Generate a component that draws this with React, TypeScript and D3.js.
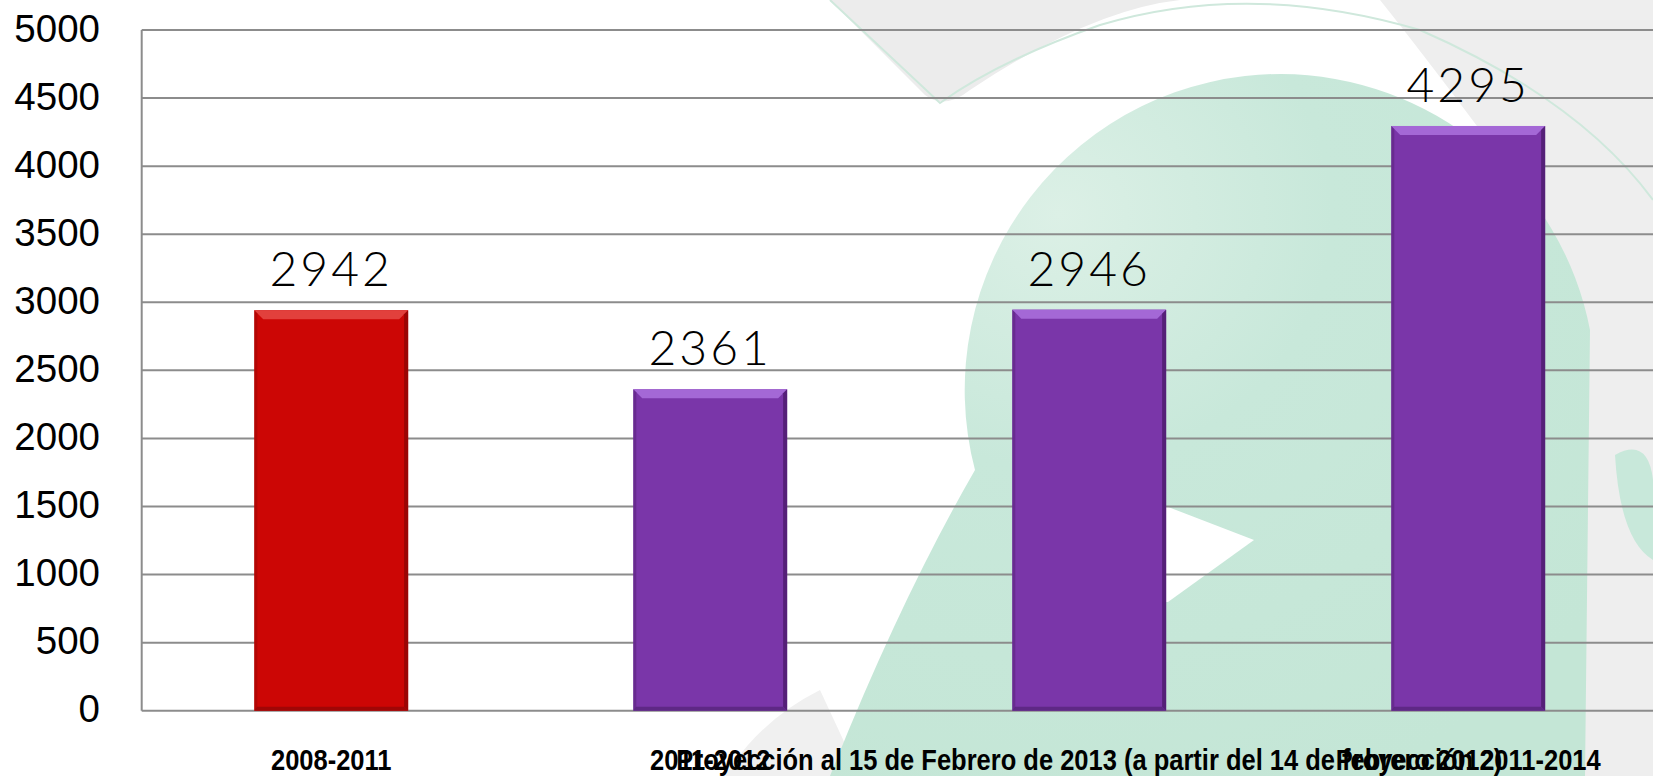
import React from "react";
import * as d3 from "d3";

const categories = [
  "2008-2011",
  "2011-2012",
  "Proyección al 15 de Febrero de 2013 (a partir del 14 de febrero 2012)",
  "Proyección 2011-2014",
];
const values = [2942, 2361, 2946, 4295];
const yTicks = [0, 500, 1000, 1500, 2000, 2500, 3000, 3500, 4000, 4500, 5000];

const W = 1653;
const H = 776;
const plotLeft = 141.7;
const plotRight = 1657.7;
const plotTop = 30;
const plotBottom = 710.7;

const red = { main: "#CC0605", top: "#E2403C", right: "#9A0504", bottom: "#A00606" };
const purple = { main: "#7A36A9", top: "#A468D6", right: "#552078", bottom: "#5E2885" };

export default function App() {
  const x = d3
    .scaleBand<string>()
    .domain(categories)
    .range([plotLeft, plotRight])
    .paddingInner(0.594)
    .paddingOuter(0.297);
  const y = d3.scaleLinear().domain([0, 5000]).range([plotBottom, plotTop]);

  const bw = x.bandwidth();

  return (
    <svg
      width={W}
      height={H}
      style={{ position: "absolute", left: 0, top: 0, background: "#ffffff" }}
    >
      <defs>
        <radialGradient id="greenG" cx="0.3" cy="0.2" r="0.9">
          <stop offset="0" stopColor="#dcf0e6" />
          <stop offset="0.4" stopColor="#c8e8da" />
          <stop offset="1" stopColor="#c4e6d6" />
        </radialGradient>
      </defs>
      {/* background watermark */}
      <g>
        <path
          d="M 1653 0 L 1653 776 L 1560 776 Q 1640 420 1480 130 Q 1420 50 1380 0 Z"
          fill="#eeeeee"
        />
        <path d="M 725 776 Q 760 720 820 690 L 860 776 Z" fill="#f0f0f0" />
        <path
          d="M 1281 74 A 316 316 0 0 1 1590 330 L 1585 776 L 830 776 Q 900 600 975 470 A 316 316 0 0 1 1281 74 Z"
          fill="url(#greenG)"
        />
        <path d="M 1615 455 Q 1660 430 1653 520 L 1653 560 Q 1620 540 1615 455 Z" fill="#c8e8da" />
        <path
          d="M 830 0 L 925 95 Q 945 110 970 90 Q 1090 10 1180 0 Z"
          fill="#ececec"
        />
        <path
          d="M 830 0 L 940 103 Q 1000 60 1100 25 Q 1250 -20 1420 30 Q 1580 100 1653 200"
          fill="none"
          stroke="#cfe8dc"
          strokeWidth={2}
        />
        <path d="M 1150 500 L 1254 540 L 1168 602 L 1150 602 Z" fill="#ffffff" />
      </g>

      {/* gridlines */}
      {yTicks.map((t) => (
        <line
          key={"g" + t}
          x1={plotLeft}
          x2={W}
          y1={y(t)}
          y2={y(t)}
          stroke="#8c8c8c"
          strokeWidth={2}
        />
      ))}
      <line x1={plotLeft} x2={plotLeft} y1={plotTop} y2={plotBottom} stroke="#8c8c8c" strokeWidth={2} />

      {/* y tick labels */}
      {yTicks.map((t) => (
        <text
          key={"t" + t}
          x={100}
          y={y(t) + 11.5}
          textAnchor="end"
          fontFamily="'Liberation Sans', Arial, sans-serif"
          fontSize={38.5}
          fill="#000"
        >
          {t}
        </text>
      ))}

      {/* bars */}
      {values.map((v, i) => {
        const c = i === 0 ? red : purple;
        const x0 = x(categories[i])!;
        const x1 = x0 + bw;
        const y0 = y(v);
        const y1 = y(0);
        const b = 9;
        return (
          <g key={"b" + i}>
            <rect x={x0} y={y0} width={bw} height={y1 - y0} fill={c.main} />
            <path
              d={`M ${x0} ${y0} L ${x1} ${y0} L ${x1 - b} ${y0 + b} L ${x0 + b} ${y0 + b} Z`}
              fill={c.top}
            />
            <path
              d={`M ${x1} ${y0} L ${x1} ${y1} L ${x1 - 4} ${y1 - 4} L ${x1 - 4} ${y0 + 4} Z`}
              fill={c.right}
            />
            <path
              d={`M ${x0} ${y1} L ${x1} ${y1} L ${x1 - 4} ${y1 - 4} L ${x0 + 3} ${y1 - 4} Z`}
              fill={c.bottom}
            />
            <path
              d={`M ${x0} ${y0} L ${x0 + 3} ${y0 + 3} L ${x0 + 3} ${y1 - 3} L ${x0} ${y1} Z`}
              fill={c.right}
              opacity={0.5}
            />
            <text
              x={x0 + bw / 2}
              y={y0 - 24}
              textAnchor="middle"
              fontFamily="Lato, 'DejaVu Sans', sans-serif"
              fontWeight={300}
              fontSize={48}
              letterSpacing={3}
              fill="#000"
            >
              {v}
            </text>
          </g>
        );
      })}

      {/* category labels */}
      {categories.map((c) => (
        <text
          key={"c" + c}
          transform={`translate(${x(c)! + bw / 2},770) scale(0.85,1)`}
          textAnchor="middle"
          fontFamily="'Liberation Sans Narrow', 'Arial Narrow', 'Liberation Sans', sans-serif"
          fontWeight={700}
          fontSize={30}
          fill="#000"
        >
          {c}
        </text>
      ))}
    </svg>
  );
}
